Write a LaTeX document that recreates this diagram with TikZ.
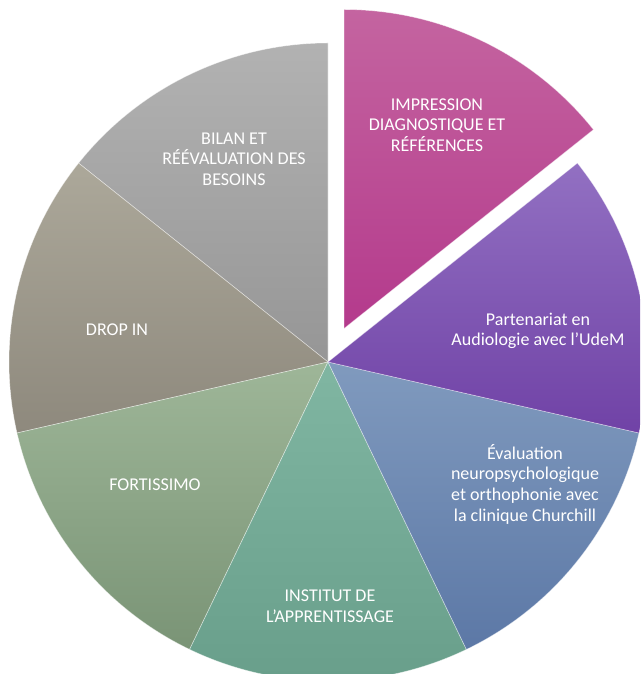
\documentclass[tikz,border=0pt]{standalone}
\usepackage{fontspec}
\setmainfont{Carlito}
\begin{document}
\begin{tikzpicture}[x=1pt,y=1pt,
  lbl/.style={text=white,align=center,font=\fontsize{18}{20.7}\selectfont,inner sep=0pt},
  sep/.style={draw=white,draw opacity=0.5,line width=0.6pt}]
\useasboundingbox (0,0) rectangle (640,674);
\clip (0,0) rectangle (640,674);
\def\R{319}
\coordinate (c) at (328,312);
\coordinate (pc) at (344,345.5);
% grey
\shade[top color={rgb,255:red,178;green,178;blue,178},bottom color={rgb,255:red,150;green,150;blue,150},sep]
  (c) -- ++(90:\R) arc[start angle=90,end angle=141.43,radius=\R] -- cycle;
% taupe
\shade[top color={rgb,255:red,172;green,168;blue,154},bottom color={rgb,255:red,142;green,137;blue,125},sep]
  (c) -- ++(141.43:\R) arc[start angle=141.43,end angle=192.86,radius=\R] -- cycle;
% green
\shade[top color={rgb,255:red,158;green,182;blue,152},bottom color={rgb,255:red,122;green,148;blue,118},sep]
  (c) -- ++(192.86:\R) arc[start angle=192.86,end angle=244.29,radius=\R] -- cycle;
% teal
\shade[top color={rgb,255:red,128;green,182;blue,162},bottom color={rgb,255:red,104;green,158;blue,138},sep]
  (c) -- ++(244.29:\R) arc[start angle=244.29,end angle=295.71,radius=\R] -- cycle;
% blue
\shade[top color={rgb,255:red,128;green,154;blue,190},bottom color={rgb,255:red,92;green,120;blue,166},sep]
  (c) -- ++(295.71:\R) arc[start angle=295.71,end angle=347.14,radius=\R] -- cycle;
% purple
\shade[top color={rgb,255:red,146;green,112;blue,194},bottom color={rgb,255:red,112;green,66;blue,166},sep]
  (c) -- ++(347.14:\R) arc[start angle=-12.86,end angle=38.57,radius=\R] -- cycle;
% pink (exploded)
\shade[top color={rgb,255:red,196;green,100;blue,160},bottom color={rgb,255:red,180;green,58;blue,140},sep]
  (pc) -- ++(38.57:\R) arc[start angle=38.57,end angle=90,radius=\R] -- cycle;
% labels
\node[lbl] (impr) at (437,549) {IMPRESSION\\DIAGNOSTIQUE ET\\RÉFÉRENCES};
\node[lbl] (part) at (538,343) {Partenariat en\\Audiologie avec l’UdeM};
\node[lbl] (eval) at (525,190) {Évaluation\\neuropsychologique\\et orthophonie avec\\la clinique Churchill};
\node[lbl] (inst) at (330,68) {INSTITUT DE\\L’APPRENTISSAGE};
\node[lbl] (fort) at (155,189) {FORTISSIMO};
\node[lbl] (drop) at (117,344) {DROP IN};
\node[lbl] (bilan) at (234,515) {BILAN ET\\RÉÉVALUATION DES\\BESOINS};
\end{tikzpicture}
\end{document}
